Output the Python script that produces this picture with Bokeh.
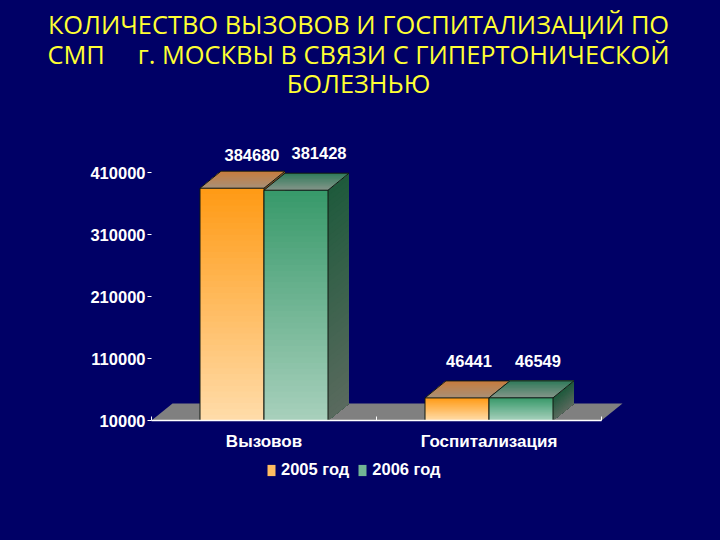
import numpy as np
from bokeh.plotting import figure
from bokeh.models import (ColumnDataSource, FixedTicker, Label, Legend, LegendItem, LinearAxis, Range1d)
from bokeh.core.properties import value
from bokeh.embed import file_html
from bokeh.resources import INLINE

categories = ["Вызовов", "Госпитализация"]
series_names = ["2005 год", "2006 год"]
calls_2005 = [384680, 46441]
calls_2006 = [381428, 46549]
y_ticks = [10000, 110000, 210000, 310000, 410000]
title_lines = ["КОЛИЧЕСТВО ВЫЗОВОВ И ГОСПИТАЛИЗАЦИЙ ПО",
               "СМП\u00a0\u00a0\u00a0\u00a0\u00a0г. МОСКВЫ В СВЯЗИ С ГИПЕРТОНИЧЕСКОЙ",
               "БОЛЕЗНЬЮ"]
title_centres_y = [23, 53, 82]

BG = "#000066"
W, H = 720, 540
LEFT, BOTTOM = 151, 120
PX_PER_CAT = 225.0
PX_PER_VAL = 62 / 100000
BASE = 10000
BAR_W = 64 / PX_PER_CAT
DX = 21 / PX_PER_CAT
DY = 17 / PX_PER_VAL
N = 40

# the frame fills the page so that titles and legend are not clipped;
# the axes are pinned inside it with fixed_location
p = figure(width=W, height=H, output_backend="svg", toolbar_location=None,
           x_axis_type=None, y_axis_type=None,
           x_range=Range1d(-LEFT / PX_PER_CAT, (W - LEFT) / PX_PER_CAT),
           y_range=Range1d(BASE - BOTTOM / PX_PER_VAL, BASE + (H - BOTTOM) / PX_PER_VAL),
           min_border=0, background_fill_color=BG, border_fill_color=BG, outline_line_color=None)
p.grid.visible = False


def mix(a, b, t):
    ca = [int(a[i:i + 2], 16) for i in (1, 3, 5)]
    cb = [int(b[i:i + 2], 16) for i in (1, 3, 5)]
    return "#%02x%02x%02x" % tuple(round(x + (y - x) * t) for x, y in zip(ca, cb))


# floor
n = len(categories)
p.patch([0, n, n + DX, DX], [BASE, BASE, BASE + DY, BASE + DY], fill_color="#808080", line_color=None)


def bar3d(x0, val, front, side, top):
    x1 = x0 + BAR_W
    ts = np.linspace(0, 1, N + 1)
    ys = val + (BASE - val) * ts
    # side face: every slice runs down to the base, later ones paint over
    xs_list = [[x1, x1 + DX, x1 + DX, x1] for _ in range(N)]
    ys_list = [[ys[i], ys[i] + DY, BASE + DY, BASE] for i in range(N)]
    cols = [mix(side[0], side[1], (i + .5) / N) for i in range(N)]
    p.patches(xs_list, ys_list, fill_color=cols, line_color=None)
    # top face: from the front edge to the back edge
    M = 12
    tt = np.linspace(0, 1, M + 1)
    xs_list = [[x0 + DX * tt[i], x1 + DX * tt[i], x1 + DX, x0 + DX] for i in range(M)]
    ys_list = [[val + DY * tt[i], val + DY * tt[i], val + DY, val + DY] for i in range(M)]
    cols = [mix(top[1], top[0], (i + .5) / M) for i in range(M)]
    p.patches(xs_list, ys_list, fill_color=cols, line_color=None)
    # front face
    cols = [mix(front[0], front[1], (i + .5) / N) for i in range(N)]
    r = p.quad(left=[x0] * N, right=[x1] * N, top=list(ys[:-1]), bottom=[BASE] * N,
               fill_color=cols, line_color=None)
    # edges
    p.multi_line([[x0, x0, x1, x1], [x0, x0 + DX, x1 + DX, x1]],
                 [[BASE, val, val, BASE], [val, val + DY, val + DY, val]],
                 line_color="#101810", line_width=1)
    return r


STY_2005 = (("#ff9a14", "#ffdcaa"), ("#8a5020", "#6a6050"), ("#c87c3c", "#a89078"))
STY_2006 = (("#37996a", "#a8d0bc"), ("#1e5a3c", "#5a6a5e"), ("#2f7a5a", "#86968a"))

r05 = r06 = None
for i in range(n):
    r05 = bar3d(i + .5 - BAR_W, calls_2005[i], *STY_2005)
    r06 = bar3d(i + .5, calls_2006[i], *STY_2006)

# value labels
lab_x = [.5 - BAR_W / 2, .5 + BAR_W / 2, 1.5 - BAR_W / 2, 1.5 + BAR_W / 2]
lab_y = [calls_2005[0], calls_2006[0], calls_2005[1], calls_2006[1]]
src = ColumnDataSource(dict(x=lab_x, y=lab_y, t=[str(v) for v in lab_y],
                            xo=[20, 23, 12, 17], yo=[-33, -37, -37, -37]))
p.text("x", "y", text="t", source=src, x_offset="xo", y_offset="yo", text_align="center",
       text_baseline="middle", text_color="white", text_font=value("Liberation Sans"),
       text_font_style="bold", text_font_size="16.5px")

# axes
yax = LinearAxis(ticker=FixedTicker(ticks=y_ticks), axis_line_color=None, fixed_location=0,
                 major_tick_line_color="white", major_tick_in=0, major_tick_out=4,
                 minor_tick_line_color=None, major_label_standoff=2,
                 major_label_text_color="white", major_label_text_font="Liberation Sans",
                 major_label_text_font_style="bold", major_label_text_font_size="16.5px")
yax.formatter.use_scientific = False
p.add_layout(yax, "left")

xax = LinearAxis(ticker=FixedTicker(ticks=[i + .5 for i in range(n)], minor_ticks=list(range(n + 1))),
                 major_label_overrides={i + .5: c for i, c in enumerate(categories)},
                 fixed_location=BASE, bounds=(0, n),
                 axis_line_color="white", axis_line_width=1.5,
                 major_tick_line_color=None, major_tick_in=0, major_tick_out=0,
                 minor_tick_line_color="white", minor_tick_in=4, minor_tick_out=0,
                 major_label_standoff=11, major_label_text_color="white",
                 major_label_text_font="Liberation Sans", major_label_text_font_style="bold",
                 major_label_text_font_size="17px")
p.add_layout(xax, "below")

legend = Legend(items=[LegendItem(label=series_names[0], renderers=[r05], index=N // 2),
                       LegendItem(label=series_names[1], renderers=[r06], index=N // 2)],
                orientation="horizontal", location=(266, 61), background_fill_alpha=0,
                border_line_color=None, glyph_width=10, glyph_height=14, label_standoff=5,
                spacing=8, margin=0, padding=2, label_text_color="white",
                label_text_font="Liberation Sans", label_text_font_style="bold",
                label_text_font_size="16.5px")
p.add_layout(legend)

for line, cy in zip(title_lines, title_centres_y):
    p.add_layout(Label(x=358, y=H - cy, x_units="screen", y_units="screen",
                       text=line, text_align="center", text_baseline="middle",
                       text_color="#ffff33", text_font="Open Sans", text_font_size="25.4px"))

html = file_html(p, INLINE).replace("<body>", f'<body style="background:{BG}">')
open("out.html", "w", encoding="utf-8").write(html)
